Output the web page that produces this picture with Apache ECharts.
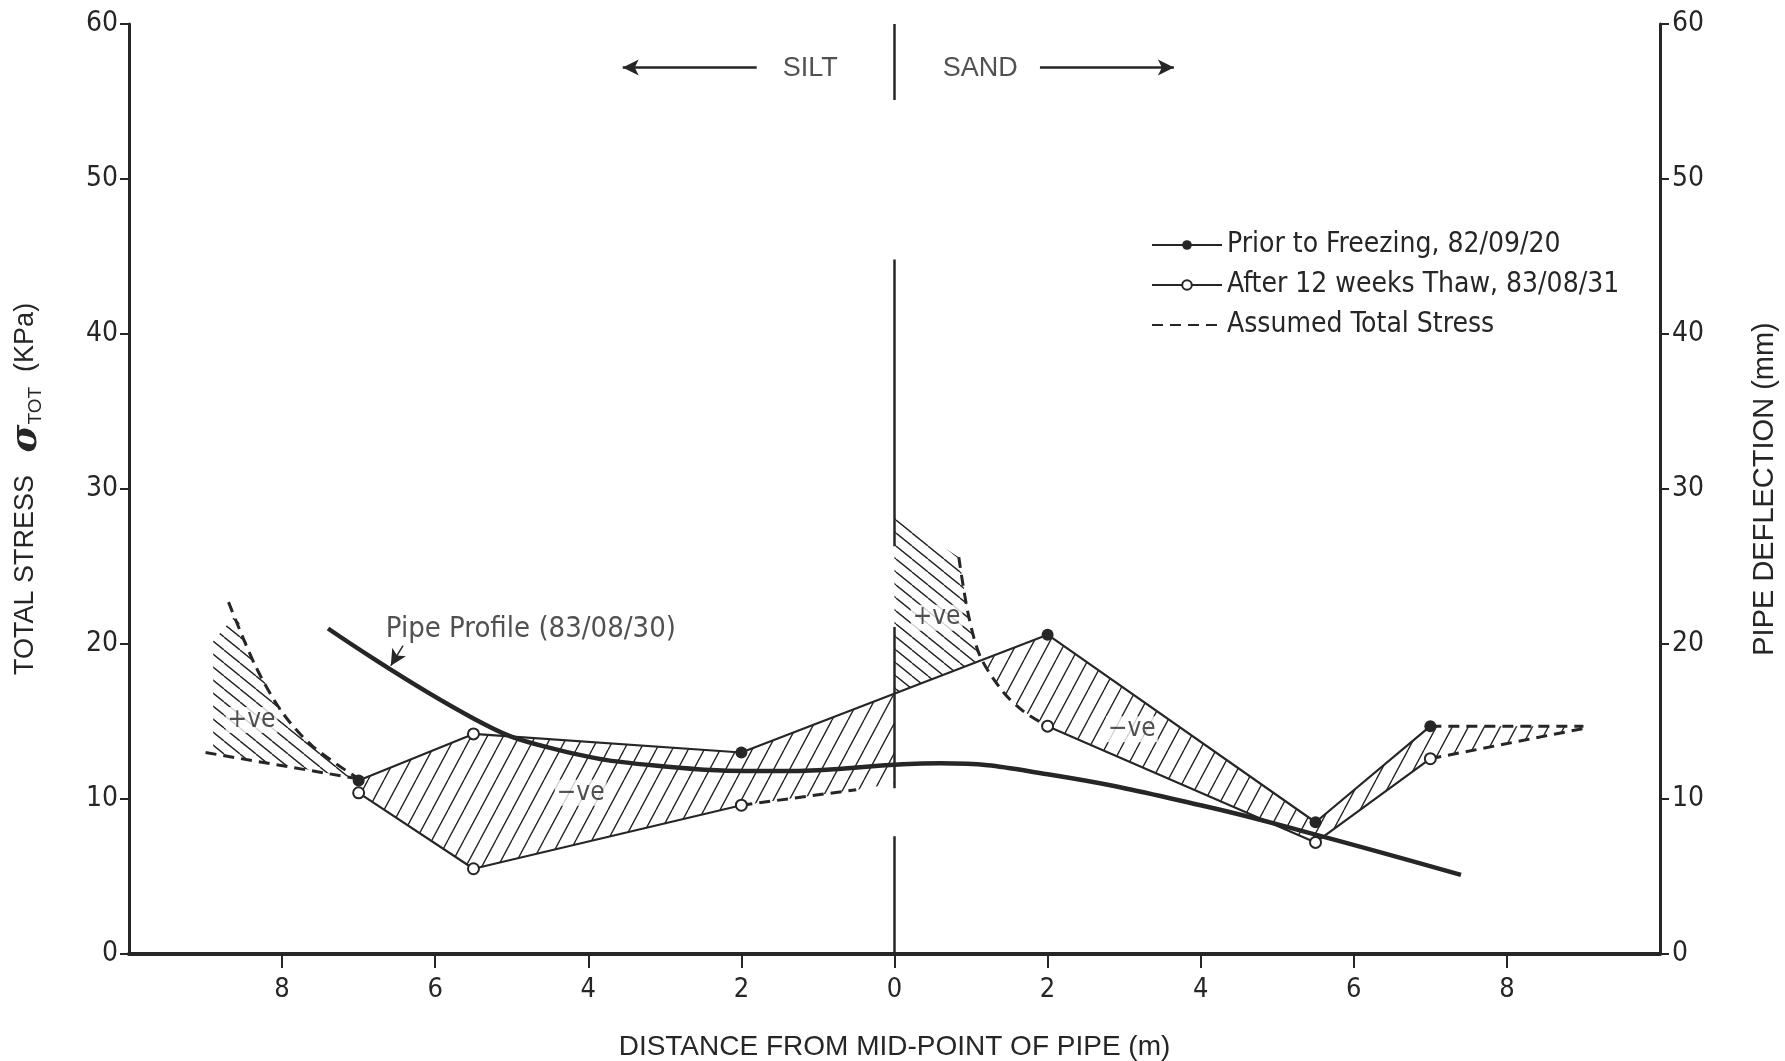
<!DOCTYPE html>
<html>
<head>
<meta charset="utf-8">
<title>Total stress along pipe</title>
<script src="https://cdn.jsdelivr.net/npm/echarts@6/dist/echarts.min.js"></script>
<style>
  html, body { margin: 0; padding: 0; background: #fff; }
  #chart { width: 1785px; height: 1061px; }
</style>
</head>
<body>
<div id="chart"></div>
<script>
// distance from mid-point of pipe (m): silt side negative, sand side positive
var xTicks = [-8, -6, -4, -2, 0, 2, 4, 6, 8]
var yTicks = [0, 10, 20, 30, 40, 50, 60]

// total stress (KPa)
var priorFreezing = [[-7, 11.2], [-5.5, 14.2], [-2, 13.0], [2, 20.6], [5.5, 8.5], [7, 14.7]]
var thawSilt = [[-7, 10.4], [-5.5, 5.5], [-2, 9.6]]
var thawSand = [[2, 14.7], [5.5, 7.2], [7, 12.6]]

// assumed total stress (dashed pieces)
var assumedSiltUpper = [[-8.7, 22.7], [-8.35, 18.6], [-8.0, 15.6], [-7.6, 13.4], [-7.0, 11.3]]
var assumedSiltLower = [[-9, 13.0], [-7, 11.3]]
var assumedSiltEnd = [[-2, 9.6], [-0.5, 10.6]]
var assumedSandCurve = [[0.84, 25.6], [0.96, 22.0], [1.12, 19.2], [1.42, 16.9], [1.7, 15.6], [2, 14.7]]
var assumedSandFlat = [[7, 14.7], [9, 14.7]]
var assumedSandRise = [[7, 12.6], [9, 14.55]]

// pipe deflection (mm)
var pipeProfile = [[-7.4, 21.0], [-5.5, 15.2], [-4.5, 13.3], [-3, 12.1], [-1.5, 11.8],
  [0.6, 12.3], [2, 11.6], [4, 9.6], [5.5, 7.7], [7.4, 5.1]]

// divider at mid-point (pieces of the broken line)
var dividerPieces = [[60, 55.1], [44.8, 26.3], [21.1, 10.7], [7.6, 0]]

// hatched areas
var hatchAreas = [
  [[-8.9, 13.0], [-8.9, 20.2], [-8.6, 21.9], [-8.35, 18.6], [-8.0, 15.6], [-7.6, 13.4], [-7.0, 11.3]],
  [[-7, 11.2], [-5.5, 14.2], [-2, 13.0], [0, 16.75], [0, 11.0], [-0.5, 10.6], [-2, 9.6], [-5.5, 5.5], [-7, 10.4]],
  [[0, 28.3], [0.84, 25.6], [0.96, 22.0], [1.12, 19.0], [0, 16.75]],
  [[1.12, 18.85], [2, 20.6], [5.5, 8.5], [7, 14.7], [9, 14.7], [9, 14.55], [7, 12.6], [5.5, 7.2], [2, 14.7],
    [1.7, 15.6], [1.42, 16.9], [1.12, 19.0]]
]
var hatchSlant = ['back', 'fwd', 'back', 'fwd']

var notes = [[-8.4, 15.1, '+ve'], [0.55, 21.7, '+ve'], [-4.1, 10.4, '\u2212ve'], [3.1, 14.5, '\u2212ve']]
var bigNotes = [[-4.75, 20.95, 'Pipe Profile (83/08/30)']]
var soilNotes = [[-1.1, 57.1, 'SILT'], [1.12, 57.1, 'SAND']]
var arrows = [[[-1.8, 57.2], [-3.55, 57.2]], [[1.9, 57.2], [3.65, 57.2]], [[-6.42, 19.9], [-6.58, 18.6]]]

var ink = '#262626'
var narrow = '"Liberation Sans Narrow", "DejaVu Sans Condensed", sans-serif'
var wide = '"Liberation Sans", Arial, sans-serif'

function hatch(w, h, fwd) {
  var c = document.createElement('canvas')
  c.width = w
  c.height = h
  var g = c.getContext('2d')
  g.strokeStyle = ink
  g.lineWidth = 1.4
  g.beginPath()
  for (var k = -1; k <= 1; k++) {
    if (fwd) { g.moveTo(k * w, h); g.lineTo(k * w + w, 0) }
    else { g.moveTo(k * w, 0); g.lineTo(k * w + w, h) }
  }
  g.stroke()
  return c
}
var patterns = {
  fwd: { image: hatch(16, 30, true), repeat: 'repeat' },
  back: { image: hatch(16, 13, false), repeat: 'repeat' }
}

function dashed(data, smooth) {
  return {
    name: 'Assumed Total Stress', type: 'line', data: data, smooth: smooth || false,
    symbol: 'none', z: 4,
    itemStyle: { color: ink, opacity: 0 },
    lineStyle: { color: ink, width: 3, type: [11, 7] }
  }
}

function thaw(data) {
  return {
    name: 'After 12 weeks Thaw, 83/08/31', type: 'line', data: data, z: 5,
    symbol: 'emptyCircle', symbolSize: 11,
    itemStyle: { color: ink, borderWidth: 1.6 },
    lineStyle: { color: ink, width: 2.2 }
  }
}

var dividerData = []
dividerPieces.forEach(function (p, i) {
  if (i > 0) dividerData.push([0, '-'])
  dividerData.push([0, p[0]], [0, p[1]])
})

var chart = echarts.init(document.getElementById('chart'))
var option = {
  animation: false,
  backgroundColor: '#fff',
  grid: { left: 129, right: 125, top: 24, bottom: 107, outerBoundsMode: 'none', containLabel: false },
  legend: {
    orient: 'vertical', left: 1146, top: 226,
    itemWidth: 70, itemHeight: 12, itemGap: 12,
    data: ['Prior to Freezing, 82/09/20', 'After 12 weeks Thaw, 83/08/31', 'Assumed Total Stress'],
    textStyle: { color: ink, fontFamily: narrow, fontSize: 28, lineHeight: 27 }
  },
  xAxis: {
    type: 'value', min: -10, max: 10, interval: 2,
    name: 'DISTANCE FROM MID-POINT OF PIPE (m)', nameLocation: 'middle', nameGap: 79,
    nameTextStyle: { color: ink, fontFamily: wide, fontSize: 28 },
    axisLine: { onZero: false, lineStyle: { color: ink, width: 4 } },
    axisTick: { length: 14, customValues: xTicks, lineStyle: { color: ink, width: 2 } },
    axisLabel: {
      color: ink, fontFamily: narrow, fontSize: 27, margin: 22, customValues: xTicks,
      formatter: function (v) { return String(Math.abs(v)) }
    },
    splitLine: { show: false }
  },
  yAxis: [{
    type: 'value', min: 0, max: 60, interval: 10, position: 'left',
    name: '{t|TOTAL STRESS   }{s|\u03c3}{b|TOT}{t|  (KPa)}', nameLocation: 'middle', nameGap: 84,
    nameTextStyle: {
      rich: {
        t: { color: ink, fontFamily: wide, fontSize: 27 },
        s: { color: ink, fontFamily: 'DejaVu Serif, serif', fontSize: 38, fontStyle: 'italic', fontWeight: 'bold' },
        b: { color: ink, fontFamily: wide, fontSize: 19, verticalAlign: 'bottom', padding: [16, 0, 0, 0] }
      }
    },
    axisLine: { onZero: false, lineStyle: { color: ink, width: 3 } },
    axisTick: { length: 9, lineStyle: { color: ink, width: 2 } },
    axisLabel: { color: ink, fontFamily: narrow, fontSize: 28, margin: 11 },
    splitLine: { show: false }
  }, {
    type: 'value', min: 0, max: 60, interval: 10, position: 'right',
    name: 'PIPE DEFLECTION (mm)', nameLocation: 'middle', nameGap: 90,
    nameTextStyle: { color: ink, fontFamily: wide, fontSize: 29 },
    axisLine: { onZero: false, lineStyle: { color: ink, width: 3 } },
    axisTick: { length: 9, lineStyle: { color: ink, width: 2 } },
    axisLabel: { color: ink, fontFamily: narrow, fontSize: 28, margin: 12 },
    splitLine: { show: false }
  }],
  series: [
    {
      type: 'custom', z: 1, silent: true,
      data: hatchAreas.map(function (a) { return a[0] }),
      renderItem: function (params, api) {
        var pts = hatchAreas[params.dataIndex].map(function (p) { return api.coord(p) })
        return {
          type: 'polygon', shape: { points: pts },
          style: { fill: patterns[hatchSlant[params.dataIndex]], stroke: null }
        }
      }
    },
    {
      type: 'line', data: dividerData, symbol: 'none', z: 2, silent: true,
      lineStyle: { color: ink, width: 2.5 }
    },
    dashed(assumedSiltUpper, 0.3),
    dashed(assumedSiltLower),
    dashed(assumedSiltEnd),
    dashed(assumedSandCurve, 0.3),
    dashed(assumedSandFlat),
    dashed(assumedSandRise),
    {
      name: 'Prior to Freezing, 82/09/20', type: 'line', z: 5,
      data: priorFreezing.map(function (p, i) {
        return i === 1 ? { value: p, symbol: 'emptyCircle', symbolSize: 11 } : p
      }),
      symbol: 'circle', symbolSize: 12,
      itemStyle: { color: ink, borderWidth: 1.6 },
      lineStyle: { color: ink, width: 2.2 }
    },
    thaw(thawSilt),
    thaw(thawSand),
    {
      name: 'Pipe Profile', type: 'line', yAxisIndex: 1, data: pipeProfile, smooth: 0.45,
      symbol: 'none', z: 6, silent: true,
      lineStyle: { color: ink, width: 4.5 }
    },
    {
      type: 'scatter', data: notes, symbolSize: 0, z: 7, silent: true,
      label: {
        show: true, position: 'inside', color: ink, fontFamily: narrow, fontSize: 26,
        backgroundColor: '#fff', padding: [0, 2],
        formatter: function (p) { return p.value[2] }
      }
    },
    {
      type: 'scatter', data: bigNotes, symbolSize: 0, z: 7, silent: true,
      label: {
        show: true, position: 'inside', color: ink,
        fontFamily: narrow, fontSize: 29,
        formatter: function (p) { return p.value[2] }
      },
      markLine: {
        silent: true, symbol: ['none', 'arrow'], symbolSize: [12, 16],
        label: { show: false },
        lineStyle: { color: ink, width: 2.5, type: 'solid' },
        data: arrows.map(function (a, i) {
          var item = [{ coord: a[0] }, { coord: a[1] }]
          if (i === 2) item[0].lineStyle = { width: 1.5 }
          return item
        })
      }
    },
    {
      type: 'scatter', data: soilNotes, symbolSize: 0, z: 7, silent: true,
      label: {
        show: true, position: 'inside', color: ink, fontFamily: wide, fontSize: 27,
        formatter: function (p) { return p.value[2] }
      }
    }
  ]
}
chart.setOption(option)
</script>
</body>
</html>
